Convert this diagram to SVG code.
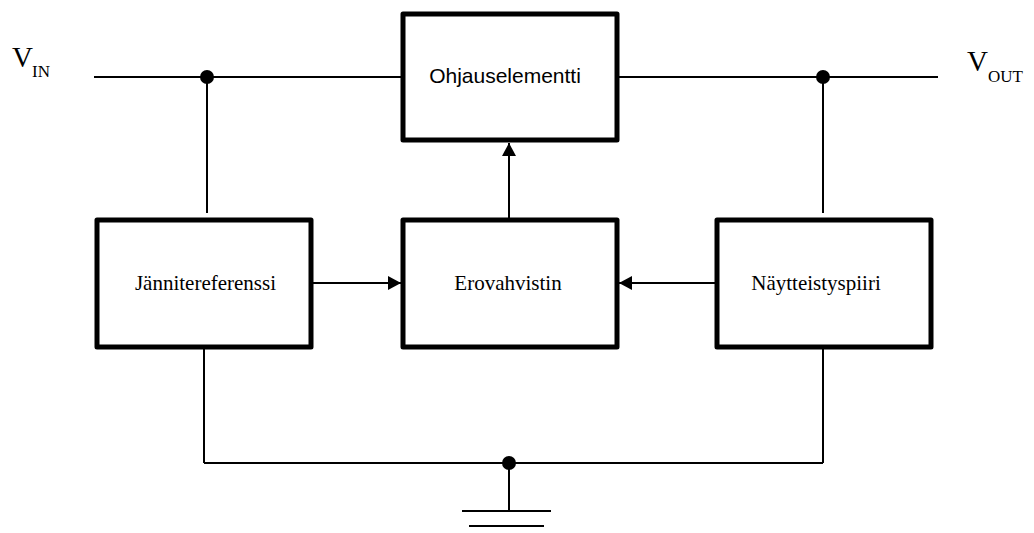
<svg xmlns="http://www.w3.org/2000/svg" width="1034" height="533" viewBox="0 0 1034 533">
<style>
.box{fill:#fff;stroke:#000;stroke-width:5;stroke-linejoin:round}
.ln{stroke:#000;stroke-width:2;fill:none}
.serif{font-family:"Liberation Serif","Times New Roman",serif;fill:#000}
.sans{font-family:"Liberation Sans",Arial,sans-serif;fill:#000}
.lbl{font-size:21px;text-anchor:middle}
</style>
<defs>
<marker id="arr" viewBox="0 0 13 14" refX="13" refY="7" markerWidth="13" markerHeight="14" markerUnits="userSpaceOnUse" orient="auto">
<path d="M0,0 L13,7 L0,14 Z" fill="#000"/>
</marker>
</defs>
<rect width="1034" height="533" fill="#fff"/>
<g id="connectors">
<line class="ln" x1="94" y1="77" x2="403" y2="77"/>
<line class="ln" x1="617" y1="77" x2="938" y2="77"/>
<line class="ln" x1="207" y1="77" x2="207" y2="213"/>
<line class="ln" x1="823" y1="77" x2="823" y2="213"/>
<line class="ln" x1="204" y1="349" x2="204" y2="463"/>
<line class="ln" x1="823" y1="349" x2="823" y2="463"/>
<line class="ln" x1="204" y1="463" x2="823" y2="463"/>
<line class="ln" x1="509" y1="463" x2="509" y2="511"/>
<line class="ln" x1="462" y1="511" x2="551" y2="511"/>
<line class="ln" x1="469" y1="526" x2="544" y2="526"/>
<line class="ln" x1="313" y1="283" x2="401" y2="283" marker-end="url(#arr)"/>
<line class="ln" x1="715" y1="283" x2="619" y2="283" marker-end="url(#arr)"/>
<line class="ln" x1="509" y1="219" x2="509" y2="143" marker-end="url(#arr)"/>
<circle cx="207" cy="77" r="7" fill="#000"/>
<circle cx="823" cy="77" r="7" fill="#000"/>
<circle cx="509" cy="463" r="7" fill="#000"/>
</g>
<g id="vin">
<text class="serif" x="12" y="67" font-size="29">V</text>
<text class="serif" x="32" y="77" font-size="17">IN</text>
</g>
<g id="vout">
<text class="serif" x="967" y="71" font-size="29">V</text>
<text class="serif" x="988" y="82" font-size="17">OUT</text>
</g>
<g id="ohjauselementti">
<rect class="box" x="403" y="14" width="214" height="126"/>
<text class="sans lbl" x="505" y="83">Ohjauselementti</text>
</g>
<g id="jannitereferenssi">
<rect class="box" x="97" y="220" width="214" height="127"/>
<text class="serif lbl" x="205.5" y="290">Jännitereferenssi</text>
</g>
<g id="erovahvistin">
<rect class="box" x="403" y="220" width="214" height="127"/>
<text class="serif lbl" x="508" y="290">Erovahvistin</text>
</g>
<g id="naytteistyspiiri">
<rect class="box" x="717" y="220" width="214" height="127"/>
<text class="serif lbl" x="816" y="290">Näytteistyspiiri</text>
</g>
</svg>
